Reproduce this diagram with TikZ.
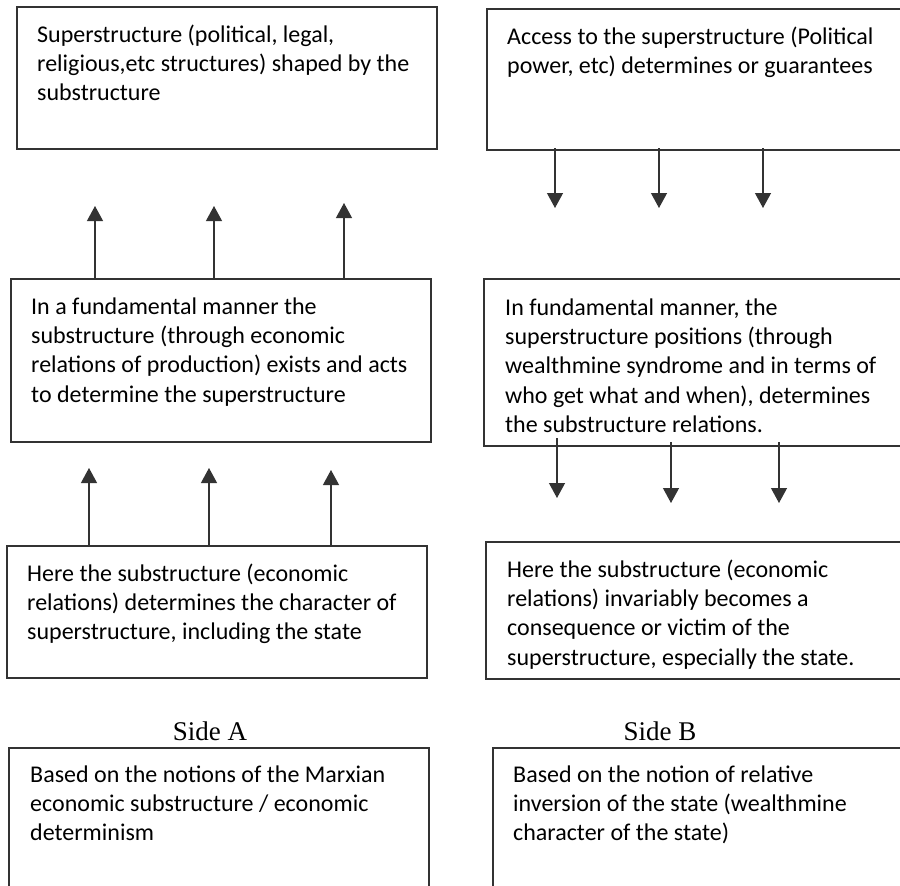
\documentclass[tikz,border=0pt]{standalone}
\usepackage{fontspec}
\newfontfamily\calfont{Carlito}
\newfontfamily\sidefont{Liberation Serif}
\usetikzlibrary{arrows.meta,calc}
\newcommand{\fl}{\rule{0pt}{20pt}}
\tikzset{
  boxline/.style={draw=black!80, line width=1.2pt, rectangle},
  txt/.style={font=\calfont\fontsize{24}{29.3}\selectfont, align=left, inner sep=0pt, anchor=north west},
  sidelabel/.style={font=\sidefont\fontsize{27}{30}\selectfont, inner sep=0pt},
  arr/.style={draw=black!80, line width=1.2pt, -{Triangle[width=16pt,length=15pt]}}
}
\begin{document}
\begin{tikzpicture}[x=1pt,y=-1pt]
\useasboundingbox (0,0) rectangle (900,886);
\clip (0,0) rectangle (900,886);
% boxes
\draw[boxline] (17,7) rectangle (437,149);
\coordinate (a1) at (17,7);
\draw[boxline] (487,9) rectangle (910,150);
\coordinate (b1) at (487,9);
\draw[boxline] (11,279) rectangle (431,442);
\coordinate (a2) at (11,279);
\draw[boxline] (484,279) rectangle (910,446);
\coordinate (b2) at (484,279);
\draw[boxline] (7,546) rectangle (427,678);
\coordinate (a3) at (7,546);
\draw[boxline] (486,542) rectangle (910,679);
\coordinate (b3) at (486,542);
\draw[boxline] (9,748) rectangle (429,900);
\coordinate (a4) at (9,748);
\draw[boxline] (493,748) rectangle (910,900);
\coordinate (b4) at (493,748);
% texts
\node[txt] (ta1) at ($(a1)+(20,15)$) {\fl Superstructure (political, legal,\\religious,etc structures) shaped by the\\substructure};
\node[txt] (tb1) at ($(b1)+(20,15)$) {\fl Access to the superstructure (Political\\power, etc) determines or guarantees};
\node[txt] (ta2) at ($(a2)+(20,15)$) {\fl In a fundamental manner the\\substructure (through economic\\relations of production) exists and acts\\to determine the superstructure};
\node[txt] (tb2) at ($(b2)+(21,16)$) {\fl In fundamental manner, the\\superstructure positions (through\\wealthmine syndrome and in terms of\\who get what and when), determines\\the substructure relations.};
\node[txt] (ta3) at ($(a3)+(20,15)$) {\fl Here the substructure (economic\\relations) determines the character of\\superstructure, including the state};
\node[txt] (tb3) at ($(b3)+(21,15)$) {\fl Here the substructure (economic\\relations) invariably becomes a\\consequence or victim of the\\superstructure, especially the state.};
\node[txt] (ta4) at ($(a4)+(21,14)$) {\fl Based on the notions of the Marxian\\economic substructure / economic\\determinism};
\node[txt] (tb4) at ($(b4)+(20,14)$) {\fl Based on the notion of relative\\inversion of the state (wealthmine\\character of the state)};
% side labels
\node[sidelabel] (sa) at (210,731) {Side A};
\node[sidelabel] (sb) at (660,731) {Side B};
% arrow tips
\coordinate (u1) at (95,206);
\coordinate (u2) at (214,206);
\coordinate (u3) at (344,203);
\coordinate (v1) at (89,468);
\coordinate (v2) at (209,468);
\coordinate (v3) at (331,470);
\coordinate (w1) at (555,208);
\coordinate (w2) at (659,208);
\coordinate (w3) at (763,208);
\coordinate (z1) at (557,498);
\coordinate (z2) at (671,503);
\coordinate (z3) at (779,503);
% arrows
\draw[arr] (u1 |- a2) -- (u1);
\draw[arr] (u2 |- a2) -- (u2);
\draw[arr] (u3 |- a2) -- (u3);
\draw[arr] (v1 |- a3) -- (v1);
\draw[arr] (v2 |- a3) -- (v2);
\draw[arr] (v3 |- a3) -- (v3);
\draw[arr] ($(w1 |- b1)+(0,139)$) -- (w1);
\draw[arr] ($(w2 |- b1)+(0,139)$) -- (w2);
\draw[arr] ($(w3 |- b1)+(0,139)$) -- (w3);
\draw[arr] ($(z1 |- b2)+(0,159)$) -- (z1);
\draw[arr] ($(z2 |- b2)+(0,163)$) -- (z2);
\draw[arr] ($(z3 |- b2)+(0,163)$) -- (z3);
\end{tikzpicture}
\end{document}
